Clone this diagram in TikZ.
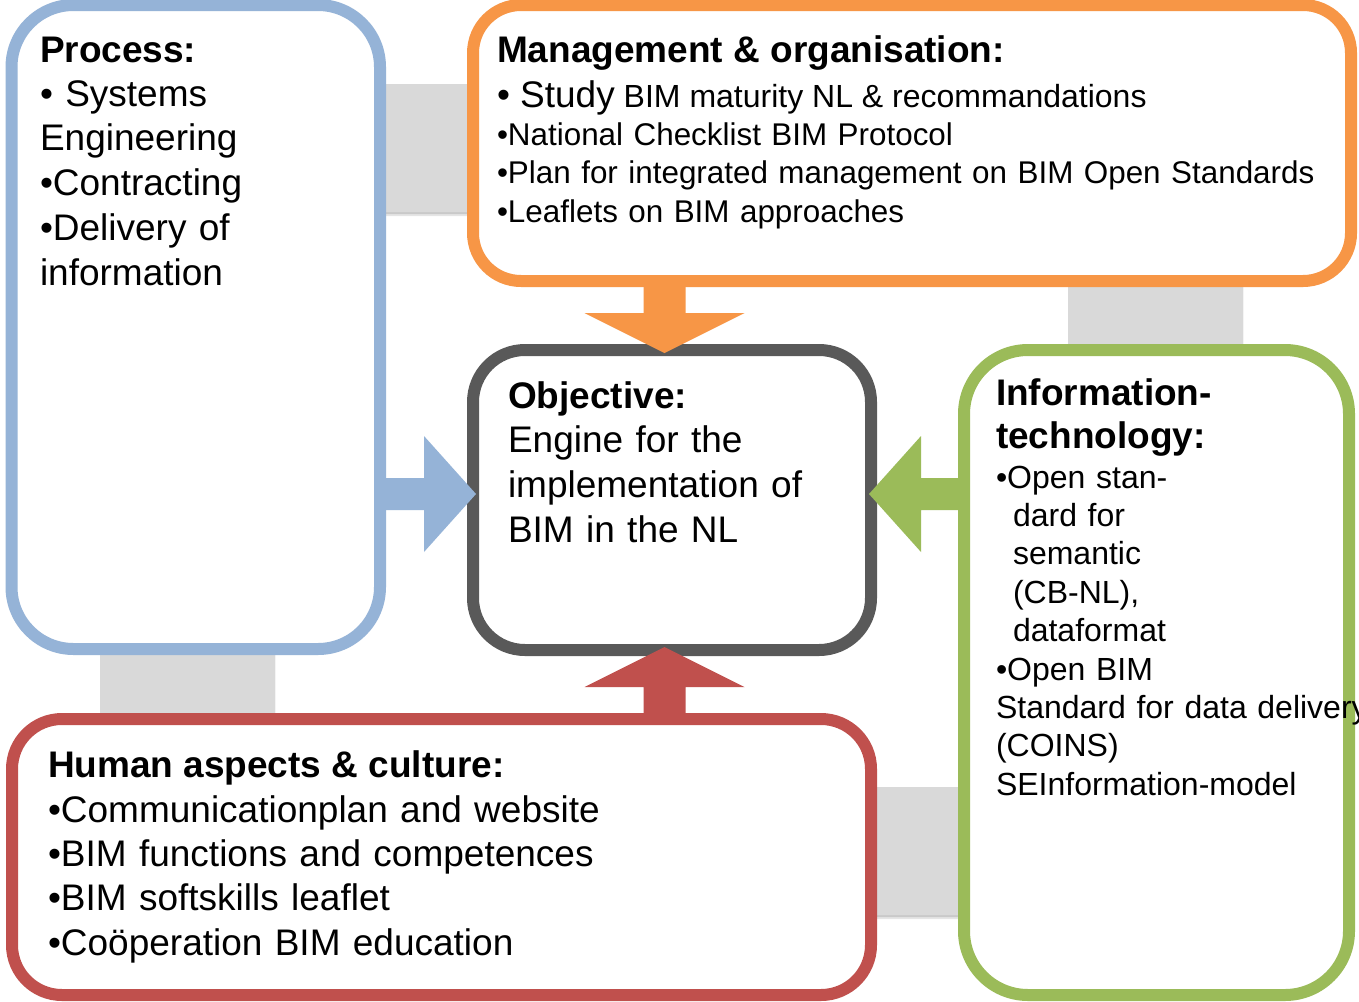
\documentclass[tikz,border=0pt]{standalone}
\usepackage{fontspec}
\setmainfont{Liberation Sans}
\usetikzlibrary{calc}
\definecolor{cBlue}{HTML}{95B3D7}
\definecolor{cOrange}{HTML}{F79646}
\definecolor{cGreen}{HTML}{9BBB59}
\definecolor{cRed}{HTML}{C0504D}
\definecolor{cDark}{HTML}{595959}
\definecolor{cRing}{HTML}{D9D9D9}
\begin{document}
\begin{tikzpicture}[x=1pt,y=-1pt,
  box/.style={draw, fill=white, line width=12pt, rounded corners=#1, inner sep=0pt, outer sep=0pt},
  txt/.style={anchor=base west, inner sep=0pt, outer sep=0pt, align=left},
  multi/.style={txt, text width=1000pt},
  big/.style={font=\fontsize{37}{#1}\selectfont},
  small/.style={font=\fontsize{32}{#1}\selectfont},
  smaller/.style={font=\fontsize{31.4}{#1}\selectfont},
  ttl/.style={font=\fontsize{37}{#1}\selectfont\bfseries}]
\useasboundingbox (0,0) rectangle (1359,1001);
\fill[white] (0,0) rectangle (1359,1001);

% grey ring behind the boxes, with a soft shadow
\fill[black, opacity=0.10, even odd rule] (100,88) rectangle (1243,919) (275,216) rectangle (1068,791);
\fill[black, opacity=0.12, even odd rule] (100,86) rectangle (1243,917) (275,214) rectangle (1068,789);
\fill[cRing, even odd rule] (100,84) rectangle (1243,915) (275,212) rectangle (1068,787);

% boxes
\node[box=62pt, draw=cBlue, minimum width=368.5pt, minimum height=644pt] (proc) at (195.75,327) {};
\node[box=48pt, draw=cOrange, minimum width=878pt, minimum height=276pt] (mgmt) at (912,143) {};
\node[box=52pt, draw=cDark, minimum width=398pt, minimum height=300pt] (obj) at (672,500) {};
\node[box=64pt, draw=cGreen, minimum width=385pt, minimum height=645pt] (info) at (1156.5,672.5) {};
\node[box=50pt, draw=cRed, minimum width=859pt, minimum height=276pt] (human) at (441.5,857) {};

% arrow tips on the objective box
\coordinate (tipO) at (664.5,353);
\coordinate (tipR) at (664.5,647);
\coordinate (tipB) at (476,494);
\coordinate (tipG) at (869,494);

% arrows
\fill[cOrange] (tipO) -- ++(80,-40) -- ++(-59,0) -- ++(0,-32) -- ++(-42,0) -- ++(0,32) -- ++(-59,0) -- cycle;
\fill[cRed] (tipR) -- ++(80,40) -- ++(-59,0) -- ++(0,32) -- ++(-42,0) -- ++(0,-32) -- ++(-59,0) -- cycle;
\fill[cBlue] (tipB) -- ++(-52,-58) -- ++(0,42) -- ++(-44,0) -- ++(0,32) -- ++(44,0) -- ++(0,42) -- cycle;
\fill[cGreen] (tipG) -- ++(52,-58) -- ++(0,42) -- ++(43,0) -- ++(0,32) -- ++(-43,0) -- ++(0,42) -- cycle;

% texts
\node[txt, ttl=44] (tProc) at (40,62) {Process:};
\node[multi, big=44.75] (bProc) at (40,106) {• Systems\\Engineering\\•Contracting\\•Delivery of\\information};

\node[txt, ttl=44] (tMgmt) at (497,62) {Management \& organisation:};
\node[txt] (sMgmt) at (497,107) {{\fontsize{37}{44}\selectfont • Study}{\fontsize{32}{38}\selectfont{} BIM maturity NL \& recommandations}};
\node[multi, smaller=38.5] (bMgmt) at (497,145) {•National Checklist BIM Protocol\\•Plan for integrated management on BIM Open Standards\\•Leaflets on BIM approaches};

\node[txt, ttl=44] (tObj) at (508,408) {Objective:};
\node[multi, big=45] (bObj) at (508,452) {Engine for the\\implementation of\\BIM in the NL};

\node[multi, ttl=43] (tInfo) at (996,405) {Information-\\technology:};
\node[multi, small=38.4] (bInfo) at (996,488) {•Open stan-\\\hspace*{17pt}dard for\\\hspace*{17pt}semantic\\\hspace*{17pt}(CB-NL),\\\hspace*{17pt}dataformat\\•Open BIM\\Standard for data delivery\\(COINS)\\SEInformation-model};

\node[txt, ttl=44] (tHuman) at (48,777) {Human aspects \& culture:};
\node[multi, big=44.33] (bHuman) at (48,822) {•Communicationplan and website\\•BIM functions and competences\\•BIM softskills leaflet\\•Coöperation BIM education};
\end{tikzpicture}
\end{document}
